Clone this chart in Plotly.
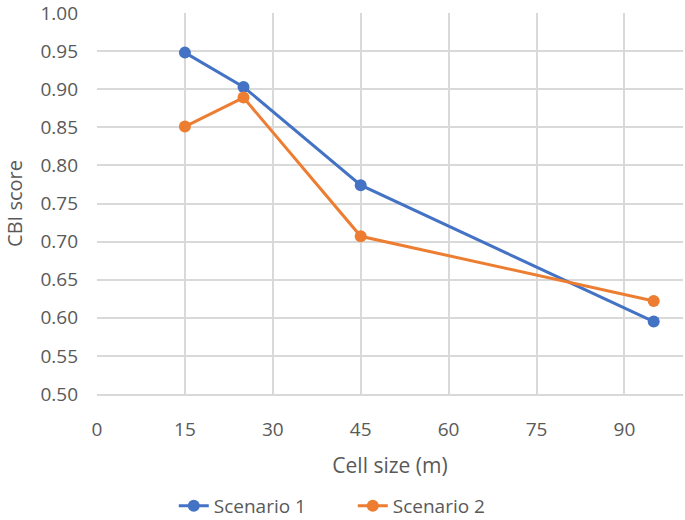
import plotly.graph_objects as go

cell_size = [15, 25, 45, 95]
scenario1 = [0.948, 0.903, 0.774, 0.595]
scenario2 = [0.851, 0.889, 0.707, 0.622]
x_ticks = [0, 15, 30, 45, 60, 75, 90]
y_ticks = [0.50, 0.55, 0.60, 0.65, 0.70, 0.75, 0.80, 0.85, 0.90, 0.95, 1.00]

font_family = "Open Sans, Lato, sans-serif"
gray = "#595959"

fig = go.Figure()
fig.add_trace(go.Scatter(x=cell_size, y=scenario1, mode="lines+markers", name="Scenario 1",
                         line=dict(color="#4472C4", width=3), marker=dict(size=12, color="#4472C4")))
fig.add_trace(go.Scatter(x=cell_size, y=scenario2, mode="lines+markers", name="Scenario 2",
                         line=dict(color="#ED7D31", width=3), marker=dict(size=12, color="#ED7D31")))

fig.update_layout(
    width=685, height=520,
    margin=dict(l=97, r=2, t=13, b=126),
    paper_bgcolor="white", plot_bgcolor="white",
    font=dict(family=font_family, color=gray, size=19),
    showlegend=True,
    legend=dict(orientation="h", xref="container", yref="container",
                x=0.515, xanchor="center", y=0.027, yanchor="middle",
                entrywidth=134, entrywidthmode="pixels",
                font=dict(size=19, color=gray)),
    xaxis=dict(range=[0, 100], tickvals=x_ticks, ticktext=[str(v) for v in x_ticks],
               showgrid=True, gridcolor="#d9d9d9", gridwidth=1.5, zeroline=False,
               showline=True, linecolor="#d9d9d9", linewidth=1.5, ticks="",
               ticklabelstandoff=17, automargin=False, ticklabeloverflow="allow",
               title=dict(text="Cell size (m)", font=dict(size=21, color=gray), standoff=18)),
    yaxis=dict(range=[0.5, 1.0], tickvals=y_ticks, ticktext=[f"{v:.2f}" for v in y_ticks],
               showgrid=True, gridcolor="#d9d9d9", gridwidth=1.5, zeroline=False,
               ticks="", ticklabelstandoff=18, automargin=False, ticklabeloverflow="allow",
               title=dict(text="CBI score", font=dict(size=20, color=gray), standoff=12)),
)

fig.write_html("out.html", config={"displayModeBar": False},
               post_script="document.body.style.margin='0';document.body.style.overflow='hidden';")
